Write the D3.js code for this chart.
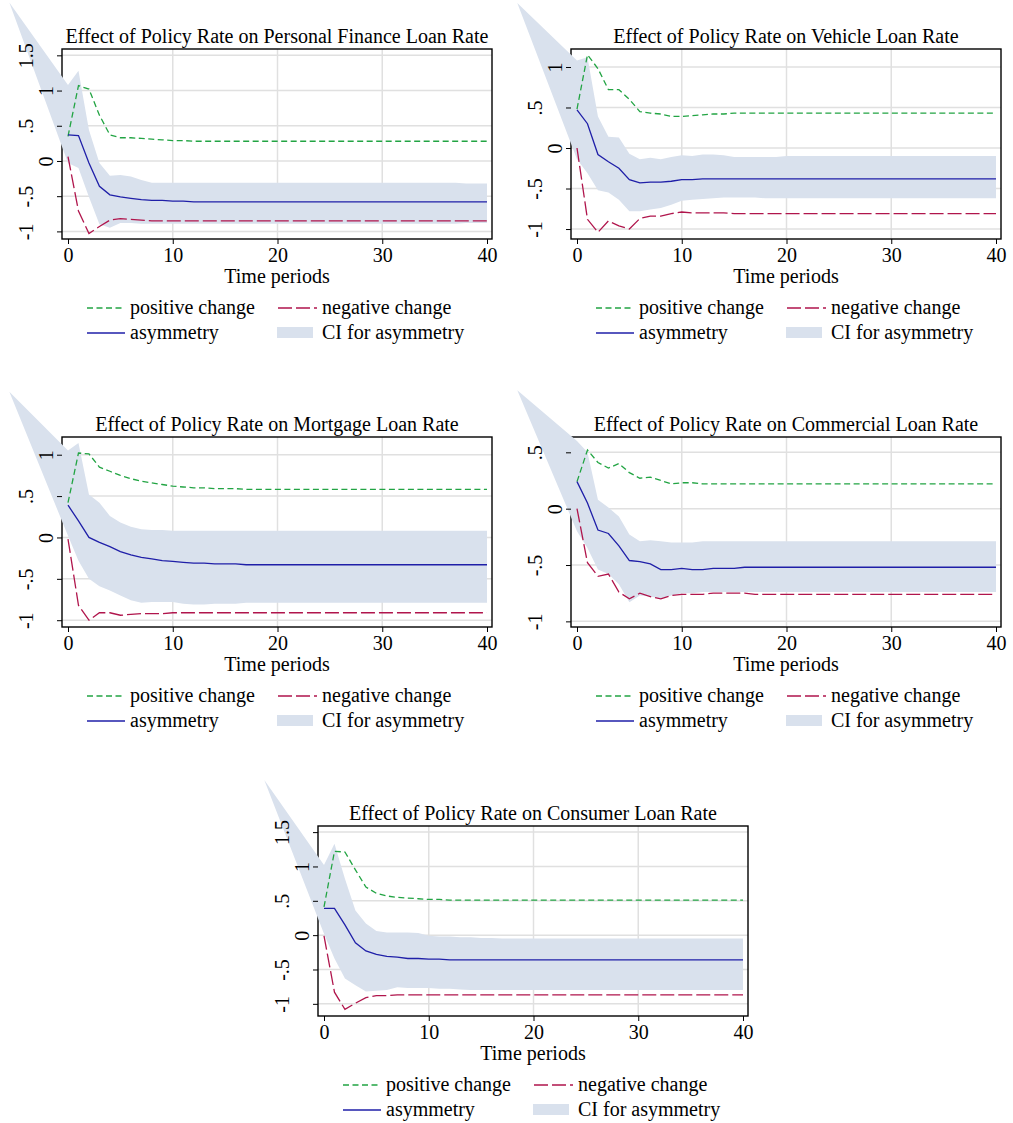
<!DOCTYPE html>
<html>
<head>
<meta charset="utf-8">
<script src="https://cdn.jsdelivr.net/npm/d3@7"></script>
<style>
  body { margin: 0; background: #fff; }
  text { font-family: "Liberation Serif", "Times New Roman", serif; font-size: 20px; fill: #000; }
</style>
</head>
<body>
<svg id="chart" width="1013" height="1123"></svg>
<script>
// ---- data ----
var periods = d3.range(0, 41);
var xTicks = [0, 10, 20, 30, 40];

var titles = [
  "Effect of Policy Rate on Personal Finance Loan Rate",
  "Effect of Policy Rate on Vehicle Loan Rate",
  "Effect of Policy Rate on Mortgage Loan Rate",
  "Effect of Policy Rate on Commercial Loan Rate",
  "Effect of Policy Rate on Consumer Loan Rate"
];
var legendLabels = ["positive change", "negative change", "asymmetry", "CI for asymmetry"];
var xTitle = "Time periods";

// Personal finance
var pos1 = [0.35,1.07,1.02,0.65,0.37,0.33,0.33,0.32,0.31,0.30,
  0.29,0.29,0.28,0.28,0.28,0.28,0.28,0.28,0.28,0.28,
  0.28,0.28,0.28,0.28,0.28,0.28,0.28,0.28,0.28,0.28,
  0.28,0.28,0.28,0.28,0.28,0.28,0.28,0.28,0.28,0.28,0.28];
var neg1 = [0.06,-0.71,-1.03,-0.93,-0.84,-0.82,-0.83,-0.84,-0.85,-0.85,
  -0.85,-0.85,-0.85,-0.85,-0.85,-0.85,-0.85,-0.85,-0.85,-0.85,
  -0.85,-0.85,-0.85,-0.85,-0.85,-0.85,-0.85,-0.85,-0.85,-0.85,
  -0.85,-0.85,-0.85,-0.85,-0.85,-0.85,-0.85,-0.85,-0.85,-0.85,-0.85];
var asym1 = [0.37,0.36,-0.03,-0.36,-0.48,-0.51,-0.53,-0.55,-0.56,-0.56,
  -0.57,-0.57,-0.58,-0.58,-0.58,-0.58,-0.58,-0.58,-0.58,-0.58,
  -0.58,-0.58,-0.58,-0.58,-0.58,-0.58,-0.58,-0.58,-0.58,-0.58,
  -0.58,-0.58,-0.58,-0.58,-0.58,-0.58,-0.58,-0.58,-0.58,-0.58,-0.58];
var ciU1 = [1.08,1.28,0.44,-0.03,-0.21,-0.20,-0.22,-0.27,-0.31,-0.31,
  -0.31,-0.31,-0.31,-0.31,-0.31,-0.31,-0.31,-0.31,-0.31,-0.31,
  -0.31,-0.31,-0.31,-0.31,-0.31,-0.31,-0.31,-0.31,-0.31,-0.31,
  -0.31,-0.31,-0.31,-0.31,-0.31,-0.31,-0.31,-0.31,-0.32,-0.32,-0.32];
var ciL1 = [-0.03,-0.10,-0.51,-0.90,-0.95,-0.88,-0.88,-0.89,-0.89,-0.89,
  -0.89,-0.89,-0.89,-0.89,-0.89,-0.89,-0.89,-0.89,-0.89,-0.89,
  -0.89,-0.89,-0.89,-0.89,-0.89,-0.89,-0.89,-0.89,-0.89,-0.89,
  -0.89,-0.89,-0.89,-0.89,-0.89,-0.89,-0.89,-0.89,-0.88,-0.88,-0.88];
var stray1 = [-5.6, 2.25];
var yTicks1 = [-1, -0.5, 0, 0.5, 1, 1.5];
var yLabels1 = ["-1", "-.5", "0", ".5", "1", "1.5"];
var yDomain1 = [-1.108, 1.59];

// Vehicle
var pos2 = [0.48,1.15,0.98,0.72,0.72,0.60,0.45,0.43,0.42,0.39,
  0.39,0.40,0.41,0.42,0.42,0.43,0.43,0.43,0.43,0.43,
  0.43,0.43,0.43,0.43,0.43,0.43,0.43,0.43,0.43,0.43,
  0.43,0.43,0.43,0.43,0.43,0.43,0.43,0.43,0.43,0.43,0.43];
var neg2 = [0.00,-0.88,-1.04,-0.90,-0.96,-1.00,-0.87,-0.84,-0.84,-0.81,
  -0.79,-0.80,-0.80,-0.80,-0.80,-0.81,-0.81,-0.81,-0.81,-0.81,
  -0.81,-0.81,-0.81,-0.81,-0.81,-0.81,-0.81,-0.81,-0.81,-0.81,
  -0.81,-0.81,-0.81,-0.81,-0.81,-0.81,-0.81,-0.81,-0.81,-0.81,-0.81];
var asym2 = [0.47,0.30,-0.08,-0.17,-0.25,-0.39,-0.43,-0.42,-0.42,-0.41,
  -0.39,-0.39,-0.38,-0.38,-0.38,-0.38,-0.38,-0.38,-0.38,-0.38,
  -0.38,-0.38,-0.38,-0.38,-0.38,-0.38,-0.38,-0.38,-0.38,-0.38,
  -0.38,-0.38,-0.38,-0.38,-0.38,-0.38,-0.38,-0.38,-0.38,-0.38,-0.38];
var ciU2 = [1.08,1.12,0.39,0.14,0.13,-0.07,-0.14,-0.12,-0.14,-0.11,
  -0.09,-0.10,-0.08,-0.08,-0.09,-0.11,-0.11,-0.11,-0.11,-0.11,
  -0.10,-0.10,-0.10,-0.10,-0.10,-0.10,-0.10,-0.10,-0.10,-0.10,
  -0.10,-0.10,-0.10,-0.10,-0.10,-0.10,-0.10,-0.10,-0.10,-0.10,-0.10];
var ciL2 = [-0.14,-0.31,-0.52,-0.55,-0.64,-0.78,-0.78,-0.76,-0.74,-0.70,
  -0.65,-0.64,-0.63,-0.62,-0.61,-0.61,-0.61,-0.61,-0.62,-0.62,
  -0.62,-0.62,-0.62,-0.62,-0.62,-0.62,-0.62,-0.62,-0.62,-0.62,
  -0.62,-0.62,-0.62,-0.62,-0.62,-0.62,-0.62,-0.62,-0.62,-0.62,-0.62];
var stray2 = [-5.7, 1.79];
var yTicks2 = [-1, -0.5, 0, 0.5, 1];
var yLabels2 = ["-1", "-.5", "0", ".5", "1"];
var yDomain2 = [-1.123, 1.222];

// Mortgage
var pos3 = [0.42,1.02,1.01,0.85,0.80,0.75,0.71,0.68,0.66,0.64,
  0.62,0.61,0.60,0.60,0.59,0.59,0.59,0.58,0.58,0.58,
  0.58,0.58,0.58,0.58,0.58,0.58,0.58,0.58,0.58,0.58,
  0.58,0.58,0.58,0.58,0.58,0.58,0.58,0.58,0.58,0.58,0.58];
var neg3 = [-0.02,-0.82,-1.00,-0.91,-0.91,-0.94,-0.93,-0.92,-0.92,-0.92,
  -0.91,-0.91,-0.91,-0.91,-0.91,-0.91,-0.91,-0.91,-0.91,-0.91,
  -0.91,-0.91,-0.91,-0.91,-0.91,-0.91,-0.91,-0.91,-0.91,-0.91,
  -0.91,-0.91,-0.91,-0.91,-0.91,-0.91,-0.91,-0.91,-0.91,-0.91,-0.91];
var asym3 = [0.39,0.20,0.00,-0.06,-0.11,-0.17,-0.21,-0.24,-0.26,-0.28,
  -0.29,-0.30,-0.31,-0.31,-0.32,-0.32,-0.32,-0.33,-0.33,-0.33,
  -0.33,-0.33,-0.33,-0.33,-0.33,-0.33,-0.33,-0.33,-0.33,-0.33,
  -0.33,-0.33,-0.33,-0.33,-0.33,-0.33,-0.33,-0.33,-0.33,-0.33,-0.33];
var ciU3 = [1.05,1.14,0.52,0.42,0.26,0.18,0.13,0.10,0.09,0.09,
  0.08,0.08,0.08,0.08,0.08,0.08,0.08,0.08,0.08,0.08,
  0.08,0.08,0.08,0.08,0.08,0.08,0.08,0.08,0.08,0.08,
  0.08,0.08,0.08,0.08,0.08,0.08,0.08,0.08,0.08,0.08,0.08];
var ciL3 = [0.02,-0.28,-0.50,-0.59,-0.64,-0.70,-0.76,-0.79,-0.78,-0.78,
  -0.78,-0.80,-0.81,-0.81,-0.80,-0.80,-0.80,-0.79,-0.79,-0.79,
  -0.79,-0.79,-0.79,-0.79,-0.79,-0.79,-0.79,-0.79,-0.79,-0.79,
  -0.79,-0.79,-0.79,-0.79,-0.79,-0.79,-0.79,-0.79,-0.79,-0.79,-0.79];
var stray3 = [-5.6, 1.76];
var yTicks3 = [-1, -0.5, 0, 0.5, 1];
var yLabels3 = ["-1", "-.5", "0", ".5", "1"];
var yDomain3 = [-1.082, 1.214];

// Commercial
var pos4 = [0.24,0.52,0.41,0.36,0.40,0.32,0.27,0.28,0.25,0.22,
  0.23,0.23,0.22,0.22,0.22,0.22,0.22,0.22,0.22,0.22,
  0.22,0.22,0.22,0.22,0.22,0.22,0.22,0.22,0.22,0.22,
  0.22,0.22,0.22,0.22,0.22,0.22,0.22,0.22,0.22,0.22,0.22];
var neg4 = [0.00,-0.48,-0.60,-0.58,-0.74,-0.80,-0.75,-0.78,-0.80,-0.77,
  -0.76,-0.76,-0.76,-0.75,-0.75,-0.75,-0.75,-0.76,-0.76,-0.76,
  -0.76,-0.76,-0.76,-0.76,-0.76,-0.76,-0.76,-0.76,-0.76,-0.76,
  -0.76,-0.76,-0.76,-0.76,-0.76,-0.76,-0.76,-0.76,-0.76,-0.76,-0.76];
var asym4 = [0.24,0.05,-0.19,-0.22,-0.33,-0.46,-0.47,-0.49,-0.54,-0.54,
  -0.53,-0.54,-0.54,-0.53,-0.53,-0.53,-0.52,-0.52,-0.52,-0.52,
  -0.52,-0.52,-0.52,-0.52,-0.52,-0.52,-0.52,-0.52,-0.52,-0.52,
  -0.52,-0.52,-0.52,-0.52,-0.52,-0.52,-0.52,-0.52,-0.52,-0.52,-0.52];
var ciU4 = [0.60,0.50,0.08,0.01,-0.07,-0.23,-0.29,-0.28,-0.29,-0.30,
  -0.30,-0.30,-0.29,-0.29,-0.29,-0.29,-0.29,-0.29,-0.29,-0.29,
  -0.29,-0.29,-0.29,-0.29,-0.29,-0.29,-0.29,-0.29,-0.29,-0.29,
  -0.29,-0.29,-0.29,-0.29,-0.29,-0.29,-0.29,-0.29,-0.29,-0.29,-0.29];
var ciL4 = [-0.20,-0.35,-0.54,-0.58,-0.67,-0.83,-0.77,-0.78,-0.80,-0.77,
  -0.75,-0.75,-0.74,-0.74,-0.74,-0.74,-0.74,-0.74,-0.74,-0.74,
  -0.74,-0.74,-0.74,-0.74,-0.74,-0.74,-0.74,-0.74,-0.74,-0.74,
  -0.74,-0.74,-0.74,-0.74,-0.74,-0.74,-0.74,-0.74,-0.74,-0.74,-0.74];
var stray4 = [-5.7, 1.05];
var yTicks4 = [-1, -0.5, 0, 0.5];
var yLabels4 = ["-1", "-.5", "0", ".5"];
var yDomain4 = [-1.05, 0.636];

// Consumer
var pos5 = [0.41,1.22,1.21,0.95,0.70,0.61,0.57,0.55,0.54,0.53,
  0.52,0.52,0.51,0.51,0.51,0.51,0.51,0.51,0.51,0.51,
  0.51,0.51,0.51,0.51,0.51,0.51,0.51,0.51,0.51,0.51,
  0.51,0.51,0.51,0.51,0.51,0.51,0.51,0.51,0.51,0.51,0.51];
var neg5 = [-0.01,-0.83,-1.08,-0.99,-0.91,-0.88,-0.88,-0.87,-0.87,-0.87,
  -0.87,-0.87,-0.87,-0.87,-0.87,-0.87,-0.87,-0.87,-0.87,-0.87,
  -0.87,-0.87,-0.87,-0.87,-0.87,-0.87,-0.87,-0.87,-0.87,-0.87,
  -0.87,-0.87,-0.87,-0.87,-0.87,-0.87,-0.87,-0.87,-0.87,-0.87,-0.87];
var asym5 = [0.39,0.39,0.15,-0.11,-0.23,-0.28,-0.31,-0.32,-0.34,-0.34,
  -0.35,-0.35,-0.36,-0.36,-0.36,-0.36,-0.36,-0.36,-0.36,-0.36,
  -0.36,-0.36,-0.36,-0.36,-0.36,-0.36,-0.36,-0.36,-0.36,-0.36,
  -0.36,-0.36,-0.36,-0.36,-0.36,-0.36,-0.36,-0.36,-0.36,-0.36,-0.36];
var ciU5 = [1.02,1.33,0.82,0.36,0.17,0.06,0.04,0.04,0.04,0.03,
  -0.01,-0.02,-0.02,-0.03,-0.03,-0.04,-0.04,-0.05,-0.05,-0.05,
  -0.05,-0.05,-0.05,-0.05,-0.05,-0.05,-0.05,-0.05,-0.05,-0.05,
  -0.05,-0.05,-0.05,-0.05,-0.05,-0.05,-0.05,-0.05,-0.05,-0.05,-0.05];
var ciL5 = [0.02,-0.34,-0.63,-0.73,-0.82,-0.81,-0.80,-0.76,-0.77,-0.77,
  -0.77,-0.78,-0.78,-0.79,-0.80,-0.80,-0.80,-0.80,-0.80,-0.80,
  -0.80,-0.80,-0.80,-0.80,-0.80,-0.80,-0.80,-0.80,-0.80,-0.80,
  -0.80,-0.80,-0.80,-0.80,-0.80,-0.80,-0.80,-0.80,-0.80,-0.80,-0.80];
var stray5 = [-5.7, 2.26];
var yTicks5 = [-1, -0.5, 0, 0.5, 1, 1.5];
var yLabels5 = ["-1", "-.5", "0", ".5", "1", "1.5"];
var yDomain5 = [-1.177, 1.589];

// ---- layout ----
var panels = [
  { title: titles[0], pos: pos1, neg: neg1, asym: asym1, ciU: ciU1, ciL: ciL1, stray: stray1, yTicks: yTicks1, yLabels: yLabels1, yDomain: yDomain1, ox: 0,   oy: 0 },
  { title: titles[1], pos: pos2, neg: neg2, asym: asym2, ciU: ciU2, ciL: ciL2, stray: stray2, yTicks: yTicks2, yLabels: yLabels2, yDomain: yDomain2, ox: 509, oy: 0 },
  { title: titles[2], pos: pos3, neg: neg3, asym: asym3, ciU: ciU3, ciL: ciL3, stray: stray3, yTicks: yTicks3, yLabels: yLabels3, yDomain: yDomain3, ox: 0,   oy: 388 },
  { title: titles[3], pos: pos4, neg: neg4, asym: asym4, ciU: ciU4, ciL: ciL4, stray: stray4, yTicks: yTicks4, yLabels: yLabels4, yDomain: yDomain4, ox: 509, oy: 388 },
  { title: titles[4], pos: pos5, neg: neg5, asym: asym5, ciU: ciU5, ciL: ciL5, stray: stray5, yTicks: yTicks5, yLabels: yLabels5, yDomain: yDomain5, ox: 256, oy: 777 }
];

var plotL = 62, plotR = 492, plotT = 49, plotB = 239;
var colPos = "#22a443", colNeg = "#b0154c", colAsym = "#1f1fa8", colCI = "#d9e1ed", colGrid = "#e0e0e0";
var dashPos = "6,3.5", dashNeg = "14,4";

var svg = d3.select("#chart");
var x = d3.scaleLinear().domain([0, 40]).range([68, 487]);

function drawPanel(p) {
  var g = svg.append("g").attr("transform", "translate(" + p.ox + "," + p.oy + ")");
  var y = d3.scaleLinear().domain(p.yDomain).range([plotB, plotT]);

  // grid
  g.selectAll(".hgrid").data(p.yTicks).enter().append("line")
    .attr("x1", plotL).attr("x2", plotR)
    .attr("y1", function (d) { return y(d); }).attr("y2", function (d) { return y(d); })
    .attr("stroke", colGrid).attr("stroke-width", 1.5);
  g.selectAll(".vgrid").data(xTicks.slice(1, -1)).enter().append("line")
    .attr("y1", plotT).attr("y2", plotB)
    .attr("x1", function (d) { return x(d); }).attr("x2", function (d) { return x(d); })
    .attr("stroke", colGrid).attr("stroke-width", 1.5);

  // frame
  g.append("rect").attr("x", plotL).attr("y", plotT)
    .attr("width", plotR - plotL).attr("height", plotB - plotT)
    .attr("fill", "none").attr("stroke", "#000").attr("stroke-width", 1.4);

  // confidence band (not clipped, like the original)
  var band = [p.stray]
    .concat(periods.map(function (t, i) { return [t, p.ciU[i]]; }))
    .concat(periods.map(function (t, i) { return [t, p.ciL[i]]; }).reverse());
  g.append("path")
    .attr("d", d3.line().x(function (d) { return x(d[0]); }).y(function (d) { return y(d[1]); })(band) + "Z")
    .attr("fill", colCI).attr("stroke", "none");

  var line = d3.line().x(function (d, i) { return x(periods[i]); }).y(function (d) { return y(d); });
  g.append("path").attr("d", line(p.pos)).attr("fill", "none")
    .attr("stroke", colPos).attr("stroke-width", 1.3).attr("stroke-dasharray", dashPos);
  g.append("path").attr("d", line(p.neg)).attr("fill", "none")
    .attr("stroke", colNeg).attr("stroke-width", 1.3).attr("stroke-dasharray", dashNeg);
  g.append("path").attr("d", line(p.asym)).attr("fill", "none")
    .attr("stroke", colAsym).attr("stroke-width", 1.3);

  // y axis
  var ya = g.append("g").attr("transform", "translate(" + plotL + ",0)")
    .call(d3.axisLeft(y).tickValues(p.yTicks).tickSize(5)
      .tickFormat(function (d, i) { return p.yLabels[i]; }));
  ya.select(".domain").remove();
  ya.selectAll(".tick line").attr("stroke", "#000");
  ya.selectAll(".tick text")
    .attr("x", null).attr("dy", null).attr("y", null)
    .attr("text-anchor", "middle")
    .style("font-size", "20px").style("font-family", "Liberation Serif, Times New Roman, serif")
    .attr("transform", function (d, i) {
      var off = p.yLabels[i].length === 1 ? -9 : -29;
      return "translate(" + off + ",0) rotate(-90)";
    });

  // x axis
  var xa = g.append("g").attr("transform", "translate(0," + plotB + ")")
    .call(d3.axisBottom(x).tickValues(xTicks).tickSize(5));
  xa.select(".domain").remove();
  xa.selectAll(".tick line").attr("stroke", "#000");
  xa.selectAll(".tick text").attr("y", 23).attr("dy", null)
    .style("font-size", "20px").style("font-family", "Liberation Serif, Times New Roman, serif");

  // titles
  g.append("text").attr("x", (plotL + plotR) / 2).attr("y", 43)
    .attr("text-anchor", "middle").text(p.title);
  g.append("text").attr("x", (plotL + plotR) / 2).attr("y", 283)
    .attr("text-anchor", "middle").text(xTitle);

  // legend
  var r1 = 308, r2 = 333;
  g.append("line").attr("x1", 87).attr("x2", 125).attr("y1", r1).attr("y2", r1)
    .attr("stroke", colPos).attr("stroke-width", 1.3).attr("stroke-dasharray", dashPos);
  g.append("text").attr("x", 130).attr("y", r1 + 6).text(legendLabels[0]);
  g.append("line").attr("x1", 278).attr("x2", 317).attr("y1", r1).attr("y2", r1)
    .attr("stroke", colNeg).attr("stroke-width", 1.3).attr("stroke-dasharray", dashNeg);
  g.append("text").attr("x", 322).attr("y", r1 + 6).text(legendLabels[1]);
  g.append("line").attr("x1", 87).attr("x2", 125).attr("y1", r2).attr("y2", r2)
    .attr("stroke", colAsym).attr("stroke-width", 1.3);
  g.append("text").attr("x", 130).attr("y", r2 + 6).text(legendLabels[2]);
  g.append("rect").attr("x", 277).attr("y", r2 - 6).attr("width", 36).attr("height", 11)
    .attr("fill", colCI);
  g.append("text").attr("x", 322).attr("y", r2 + 6).text(legendLabels[3]);
}

panels.forEach(drawPanel);
</script>
</body>
</html>
